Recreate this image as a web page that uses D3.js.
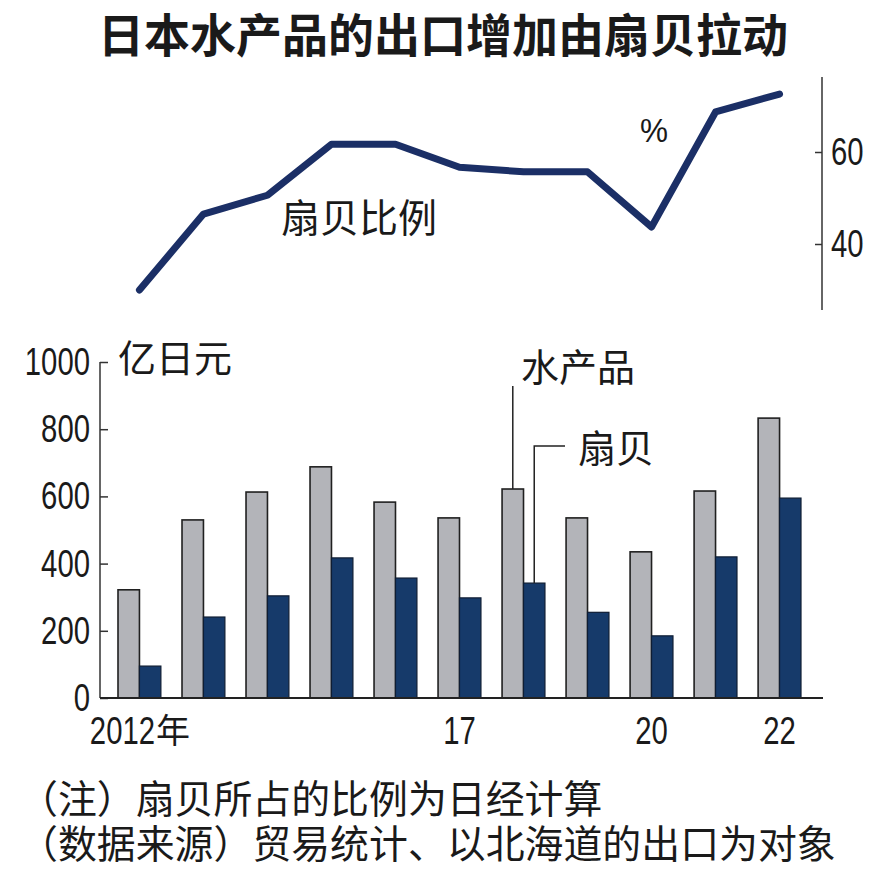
<!DOCTYPE html>
<html>
<head>
<meta charset="utf-8">
<script src="https://cdn.jsdelivr.net/npm/d3@7"></script>
<style>
  body { margin: 0; background: #fff; }
  svg { display: block; }
  .num { font-family: "Liberation Sans", Arial, sans-serif; }
  .cjk { font-family: "Noto Sans CJK SC", sans-serif; }
</style>
</head>
<body>
<svg id="chart" width="886" height="878"></svg>
<script>
// data
const years = [2012, 2013, 2014, 2015, 2016, 2017, 2018, 2019, 2020, 2021, 2022];
const seafood = [322, 530, 613, 688, 583, 536, 622, 536, 435, 616, 833];   // 水产品, 亿日元
const scallop = [95, 241, 304, 417, 357, 298, 342, 255, 185, 420, 595];    // 扇贝, 亿日元
const share = [30, 46.5, 50.6, 61.7, 61.7, 56.7, 55.7, 55.7, 43.7, 68.7, 72.6]; // 扇贝比例 %
const barTicks = [0, 200, 400, 600, 800, 1000];
const shareTicks = [40, 60];
const yearLabels = { 2012: '2012年', 2017: '17', 2020: '20', 2022: '22' };

const navy = '#163a6a';
const gray = '#b3b4b9';
const ink = '#1a1a1a';
const digitW = 16.3; // narrow digits, as in the original

const svg = d3.select('#chart');

// squeeze a number text to the narrow look of the original
function narrow(sel) {
    sel.attr('class', 'num')
        .attr('textLength', function () { return this.textContent.length * digitW; })
        .attr('lengthAdjust', 'spacingAndGlyphs');
}

// title
svg.append('text')
    .attr('class', 'cjk')
    .attr('x', 443).attr('y', 52)
    .attr('text-anchor', 'middle')
    .style('font-size', '46px').style('font-weight', 'bold')
    .attr('fill', ink)
    .text('日本水产品的出口增加由扇贝拉动');

// shared x band scale, one band per year (grey + navy pair)
const x = d3.scaleBand()
    .domain(years)
    .range([118, 801])
    .paddingInner(0.33)
    .paddingOuter(0);
const xInner = d3.scaleBand()
    .domain(['seafood', 'scallop'])
    .range([0, x.bandwidth()]);

// ---------- bar chart ----------
const y = d3.scaleLinear().domain([0, 1000]).range([698, 362]);

const groups = svg.append('g').selectAll('g')
    .data(years.map((yr, i) => ({ yr, seafood: seafood[i], scallop: scallop[i] })))
    .enter().append('g')
    .attr('transform', d => `translate(${x(d.yr)},0)`);

groups.append('rect')
    .attr('x', xInner('seafood'))
    .attr('y', d => y(d.seafood))
    .attr('width', xInner.bandwidth())
    .attr('height', d => y(0) - y(d.seafood))
    .attr('fill', gray)
    .attr('stroke', '#202020')
    .attr('stroke-width', 1.6);

groups.append('rect')
    .attr('x', xInner('scallop'))
    .attr('y', d => y(d.scallop))
    .attr('width', xInner.bandwidth())
    .attr('height', d => y(0) - y(d.scallop))
    .attr('fill', navy)
    .attr('stroke', '#0f1d33')
    .attr('stroke-width', 1.2);

// left axis
const yAxis = svg.append('g')
    .attr('transform', 'translate(100,0)')
    .call(d3.axisLeft(y).tickValues(barTicks).tickFormat(d3.format('d')).tickSize(-8).tickPadding(10));
yAxis.select('.domain').attr('d', `M0,${y(1000)}V${y(0)}`).attr('stroke', '#333').attr('stroke-width', 1.5);
yAxis.selectAll('.tick line').attr('stroke', '#333').attr('stroke-width', 1.5);
yAxis.selectAll('.tick text')
    .call(narrow)
    .style('font-size', '39px')
    .attr('fill', ink);

// baseline
svg.append('line')
    .attr('x1', 100).attr('x2', 823)
    .attr('y1', y(0)).attr('y2', y(0))
    .attr('stroke', '#222').attr('stroke-width', 2);

// year labels
const yearG = svg.append('g').selectAll('g')
    .data(years.filter(yr => yearLabels[yr]))
    .enter().append('g')
    .attr('transform', d => `translate(${x(d) + x.bandwidth() / 2},744)`);
yearG.each(function (d) {
    const g = d3.select(this);
    const label = yearLabels[d];
    const num = label.replace('年', '');
    const suffix = label.endsWith('年');
    const numW = num.length * digitW;
    const sufW = suffix ? 34 : 0;
    const x0 = -(numW + sufW) / 2;
    g.append('text')
        .attr('x', x0).attr('y', 0)
        .style('font-size', '39px').attr('fill', ink)
        .text(num)
        .call(narrow);
    if (suffix) {
        g.append('text')
            .attr('class', 'cjk')
            .attr('x', x0 + numW + 1).attr('y', -1)
            .style('font-size', '34px').attr('fill', ink)
            .text('年');
    }
});

svg.append('text')
    .attr('class', 'cjk')
    .attr('x', 118).attr('y', 372)
    .style('font-size', '38px')
    .attr('fill', ink)
    .text('亿日元');

// legend labels with leader lines (pointing at 2018 bars)
const yr18 = 2018;
const sx = x(yr18) + xInner('seafood') + xInner.bandwidth() / 2;
const cx = x(yr18) + xInner('scallop') + xInner.bandwidth() / 2;
svg.append('line')
    .attr('x1', sx).attr('x2', sx)
    .attr('y1', 386).attr('y2', y(seafood[years.indexOf(yr18)]))
    .attr('stroke', '#222').attr('stroke-width', 1.5);
svg.append('polyline')
    .attr('points', `${cx},${y(scallop[years.indexOf(yr18)])} ${cx},446 565,446`)
    .attr('fill', 'none')
    .attr('stroke', '#222').attr('stroke-width', 1.5);
svg.append('text')
    .attr('class', 'cjk')
    .attr('x', 521).attr('y', 381)
    .style('font-size', '38px').attr('fill', ink)
    .text('水产品');
svg.append('text')
    .attr('class', 'cjk')
    .attr('x', 578).attr('y', 462)
    .style('font-size', '38px').attr('fill', ink)
    .text('扇贝');

// ---------- line chart ----------
const yl = d3.scaleLinear().domain([40, 60]).range([244, 152]);

const line = d3.line()
    .x((d, i) => x(years[i]) + x.bandwidth() / 2)
    .y(d => yl(d));

svg.append('path')
    .datum(share)
    .attr('d', line)
    .attr('fill', 'none')
    .attr('stroke', '#1b2f66')
    .attr('stroke-width', 7)
    .attr('stroke-linejoin', 'round')
    .attr('stroke-linecap', 'round');

const rAxis = svg.append('g')
    .attr('transform', 'translate(822,0)')
    .call(d3.axisRight(yl).tickValues(shareTicks).tickSize(-7).tickPadding(9));
rAxis.select('.domain').attr('d', 'M0,77V310').attr('stroke', '#333').attr('stroke-width', 1.5);
rAxis.selectAll('.tick line').attr('stroke', '#333').attr('stroke-width', 1.5);
rAxis.selectAll('.tick text')
    .call(narrow)
    .style('font-size', '39px')
    .attr('fill', ink);

svg.append('text')
    .attr('class', 'num')
    .attr('x', 640).attr('y', 142)
    .attr('textLength', 28)
    .attr('lengthAdjust', 'spacingAndGlyphs')
    .style('font-size', '34px').attr('fill', ink)
    .text('%');

svg.append('text')
    .attr('class', 'cjk')
    .attr('x', 281).attr('y', 232)
    .style('font-size', '39px').attr('fill', ink)
    .text('扇贝比例');

// ---------- notes ----------
const notes = ['（注）扇贝所占的比例为日经计算', '（数据来源）贸易统计、以北海道的出口为对象'];
svg.append('g').selectAll('text')
    .data(notes)
    .enter().append('text')
    .attr('class', 'cjk')
    .attr('x', 19)
    .attr('y', (d, i) => 813 + i * 45)
    .style('font-size', '38.9px')
    .attr('fill', ink)
    .text(d => d);
</script>
</body>
</html>
